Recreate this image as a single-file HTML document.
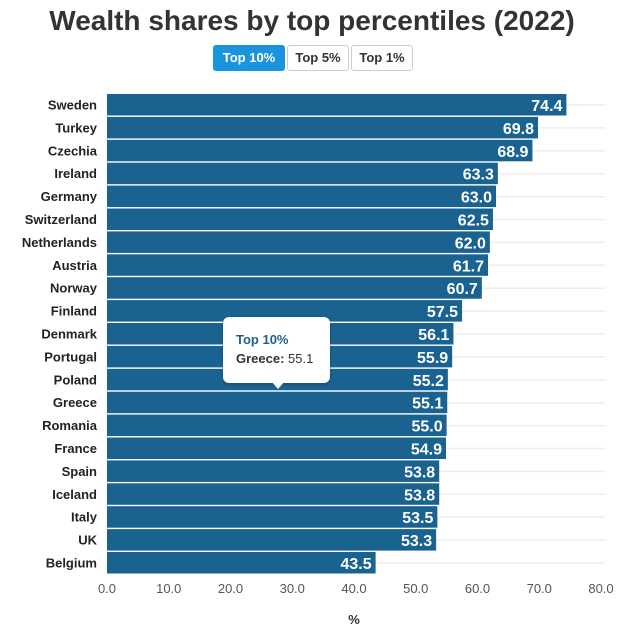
<!DOCTYPE html>
<html><head><meta charset="utf-8"><style>
body{margin:0;background:#fff;font-family:"Liberation Sans",sans-serif}
</style></head><body>
<div style="position:relative;width:624px;height:628px;overflow:hidden">
<div style="position:absolute;left:0;top:5px;width:624px;text-align:center;font-size:28px;font-weight:bold;color:#333">Wealth shares by top percentiles (2022)</div>
<div style="position:absolute;left:213px;top:45px;width:72px;height:26px;background:#1a95dd;color:#fff;border-radius:3px;font-size:13px;font-weight:bold;line-height:26px;text-align:center">Top 10%</div>
<div style="position:absolute;left:287px;top:45px;width:60px;height:24px;border:1px solid #ccc;border-radius:3px;color:#333;font-size:13px;font-weight:bold;line-height:24px;text-align:center">Top 5%</div>
<div style="position:absolute;left:351px;top:45px;width:60px;height:24px;border:1px solid #ccc;border-radius:3px;color:#333;font-size:13px;font-weight:bold;line-height:24px;text-align:center">Top 1%</div>
<svg id="svg" width="624" height="628" style="position:absolute;left:0;top:0"></svg>
<div style="position:absolute;left:223px;top:317px;width:107px;height:66px;background:#fff;border-radius:6px;box-shadow:0 1px 3px rgba(0,0,0,.25);font-size:13px">
<div style="position:absolute;left:13px;top:15px;color:#1f5f8f;font-weight:bold">Top 10%</div>
<div style="position:absolute;left:13px;top:34px;color:#333"><b>Greece:</b> 55.1</div>
<div style="position:absolute;left:48px;top:64px;width:0;height:0;border-left:7px solid transparent;border-right:7px solid transparent;border-top:8px solid #fff"></div>
</div>
</div>
<script>
const categories=["Sweden","Turkey","Czechia","Ireland","Germany","Switzerland","Netherlands","Austria","Norway","Finland","Denmark","Portugal","Poland","Greece","Romania","France","Spain","Iceland","Italy","UK","Belgium"];
const values=[74.4,69.8,68.9,63.3,63.0,62.5,62.0,61.7,60.7,57.5,56.1,55.9,55.2,55.1,55.0,54.9,53.8,53.8,53.5,53.3,43.5];
const ticks=[0,10,20,30,40,50,60,70,80];
const svg=document.getElementById('svg');const NS='http://www.w3.org/2000/svg';
const x=v=>107+v*6.175;const y=i=>94+i*22.9;
function mk(t,a,txt){const e=document.createElementNS(NS,t);for(const k in a)e.setAttribute(k,a[k]);if(txt!=null)e.textContent=txt;svg.appendChild(e);return e;}
categories.forEach((c,i)=>{
 const g=mk('line',{x1:107,x2:605,y1:y(i)+11,y2:y(i)+11,stroke:'#eee','stroke-width':1.5});
 
 
 const r=mk('rect',{x:107,y:y(i),width:x(values[i])-107,height:21.5,fill:'#1a6391'});
 
 
 const l=mk('text',{x:97,y:y(i)+15.5,'text-anchor':'end','font-size':13,'font-weight':'bold',fill:'#222'},c);
 
 
 const v=mk('text',{x:x(values[i])-4,y:y(i)+17,'text-anchor':'end','font-size':16,'font-weight':'bold',fill:'#fff'},values[i].toFixed(1));
 
 
});
ticks.forEach(t=>{
 const e=mk('text',{x:x(t),y:593,'text-anchor':'middle','font-size':13,fill:'#555'},t.toFixed(1));
 
 
});
const at=mk('text',{x:354,y:624,'text-anchor':'middle','font-size':13,'font-weight':'bold',fill:'#333'},'%');


</script>
</body></html>
